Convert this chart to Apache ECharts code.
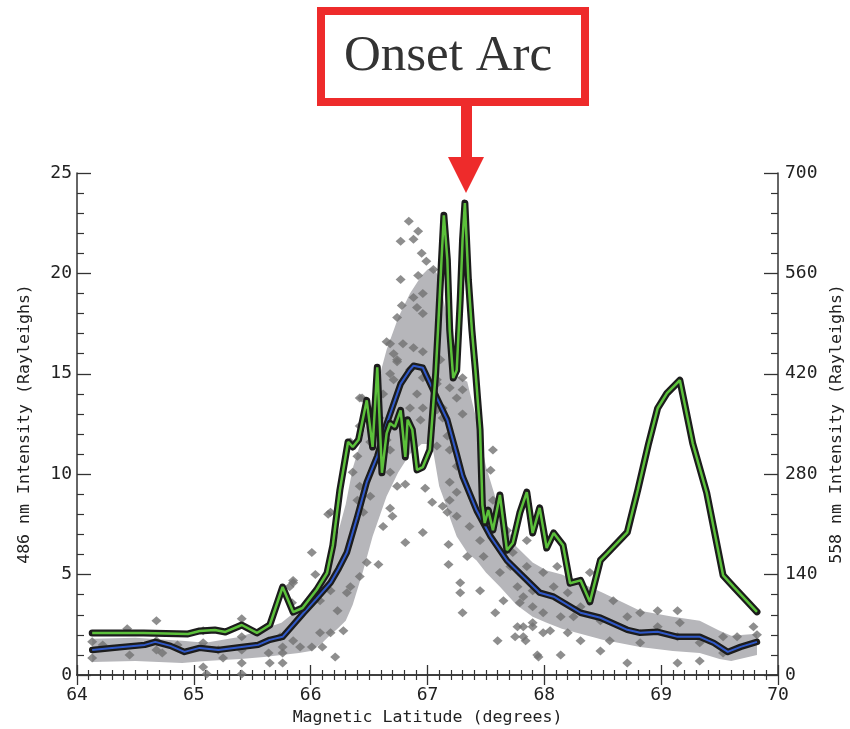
<!DOCTYPE html>
<html>
<head>
<meta charset="utf-8">
<script src="https://cdn.jsdelivr.net/npm/echarts@6/dist/echarts.min.js"></script>
<style>
html,body{margin:0;padding:0;background:#fff;}
#chart{width:850px;height:729px;}
</style>
</head>
<body>
<div id="chart"></div>
<script>
// ---- axis ticks ----
const latTicks = [64, 65, 66, 67, 68, 69, 70];
const leftTicks = [0, 5, 10, 15, 20, 25];
const rightTicks = [0, 140, 280, 420, 560, 700];

// ---- gray band (486 nm spread, Rayleighs) ----
const bandLat  = [64.13,64.5,64.9,65.1,65.4,65.6,65.75,65.9,66.0,66.1,66.17,66.23,66.3,66.36,66.45,66.53,66.65,66.75,66.85,66.95,67.0,67.05,67.1,67.15,67.2,67.25,67.34,67.42,67.5,67.62,67.76,67.9,68.02,68.15,68.5,68.82,69.1,69.33,69.5,69.6,69.82];
const bandLow  = [0.65,0.7,0.6,0.7,0.8,0.9,1.0,1.1,1.2,1.6,2.0,2.3,2.7,3.5,5.2,6.9,8.9,10.1,11.0,11.5,11.5,11.1,9.4,8.6,7.7,6.9,6.1,5.7,5.1,4.4,3.5,2.9,2.6,2.3,1.75,1.4,1.2,1.1,0.8,0.7,1.0];
const bandHigh = [1.8,1.85,1.7,1.6,1.9,2.3,2.6,3.3,4.0,4.8,5.5,7.0,8.5,10.3,12.0,13.6,16.2,17.8,19.0,19.9,20.2,20.3,19.8,18.3,16.3,14.9,14.6,12.7,10.4,8.1,6.4,5.6,5.2,5.0,4.1,3.2,2.9,2.7,2.2,1.95,2.05];

// ---- 486 nm mean (blue), Rayleighs ----
const blueLat = [64.13,64.3,64.58,64.67,64.8,64.92,65.05,65.21,65.41,65.55,65.65,65.76,65.85,65.94,66.05,66.17,66.24,66.31,66.40,66.48,66.57,66.65,66.77,66.85,66.88,66.96,67.0,67.08,67.17,67.25,67.30,67.42,67.54,67.68,67.82,67.96,68.08,68.31,68.48,68.71,68.82,68.97,69.14,69.33,69.45,69.57,69.68,69.82];
const blueVal = [1.25,1.35,1.5,1.65,1.45,1.15,1.35,1.25,1.4,1.5,1.75,1.9,2.5,3.1,3.8,4.6,5.3,6.1,7.9,9.6,10.9,12.5,14.5,15.2,15.4,15.3,14.8,13.8,12.7,11.0,9.9,8.2,6.9,5.7,4.9,4.1,3.9,3.1,2.85,2.25,2.1,2.15,1.9,1.9,1.6,1.15,1.4,1.65];

// ---- 558 nm (green), Rayleighs, right axis ----
const greenLat = [64.13,64.57,64.95,65.05,65.18,65.27,65.41,65.54,65.65,65.76,65.85,65.93,66.05,66.14,66.19,66.25,66.32,66.36,66.41,66.48,66.53,66.57,66.61,66.65,66.68,66.72,66.77,66.81,66.83,66.87,66.91,66.96,67.02,67.07,67.09,67.12,67.14,67.17,67.19,67.22,67.25,67.28,67.30,67.32,67.35,67.38,67.41,67.43,67.45,67.47,67.49,67.52,67.56,67.62,67.68,67.73,67.79,67.85,67.90,67.96,68.02,68.08,68.16,68.22,68.31,68.39,68.48,68.54,68.71,68.80,68.89,68.97,69.05,69.16,69.27,69.39,69.53,69.62,69.82];
const greenVal = [58.6,58.6,57.2,61.4,62.7,60,69.7,58.6,69.7,122.7,87.8,93.4,118.5,142.2,181,258,325,318,328,383,318,429,282,337,351,346,369,304,356,342,286,290,314,421,481,579,641,579,481,414,425,523,607,658,551,481,425,383,342,237,212,230,202,251,174,184,226,255,198,233,177,198,181,128,132,102,160,170,199,258,321,372,393,411,323,254,139,123,88];

// ---- individual 486 nm samples (scatter), Rayleighs ----
const sampLat = [66.84,66.92,66.77,66.88,66.95,66.99,66.77,66.92,67.05,66.88,66.96,66.78,66.74,66.91,66.96,66.65,66.79,66.88,66.96,66.71,66.74,67.11,66.85,66.96,67.08,66.42,66.48,66.62,67.19,67.30,67.25,67.13,67.30,66.71,67.08,
66.68,66.74,66.68,66.91,66.85,66.96,66.79,66.94,67.08,67.13,67.17,67.08,67.19,67.25,67.30,66.44,66.59,66.65,66.68,66.42,66.51,66.34,66.40,66.36,66.42,66.40,66.45,66.17,66.51,66.74,66.81,66.98,66.68,67.17,67.19,67.25,66.68,
66.01,66.15,66.04,65.85,65.84,65.99,66.08,66.17,66.34,66.42,66.31,66.23,66.17,66.28,66.08,66.01,66.10,65.91,65.76,65.74,65.76,65.65,66.21,65.76,66.48,66.58,66.81,66.70,66.62,66.96,67.04,67.18,67.18,67.28,67.28,67.30,67.45,67.58,67.60,67.75,67.84,67.95,67.56,67.54,67.19,67.13,67.25,67.36,67.48,67.56,67.34,67.48,67.45,67.62,67.71,67.77,67.82,67.65,67.90,67.99,67.90,67.99,67.82,
67.68,67.85,67.73,67.85,67.99,68.11,68.39,67.90,68.08,68.20,67.79,67.90,67.77,67.82,68.05,68.14,68.25,68.31,68.48,68.59,68.71,68.82,68.97,69.14,68.97,69.16,69.33,69.53,69.53,69.79,67.94,68.14,68.48,68.71,69.14,69.33,69.14,68.82,68.56,68.31,68.20,
64.13,64.13,64.22,64.43,64.45,64.68,64.68,64.68,64.73,64.86,65.08,65.08,65.08,65.11,65.21,65.25,65.41,65.41,65.41,65.41,65.41,65.64,65.85,65.85,65.82,69.82,69.65];
const sampVal = [22.6,22.1,21.6,21.7,21.0,20.6,19.7,19.9,20.2,18.8,19.0,18.4,17.8,18.3,18.0,16.6,16.5,16.3,16.1,16.0,15.6,15.7,15.2,14.8,14.7,13.8,13.3,14.0,14.3,14.8,13.8,13.3,13.0,14.7,13.2,
16.5,15.7,15.0,14.0,13.3,13.3,12.5,12.7,14.5,12.8,11.9,11.4,11.2,10.4,14.2,13.8,12.8,11.7,11.2,12.4,11.6,11.6,10.9,10.1,9.4,8.7,8.1,8.1,8.9,9.4,9.5,9.3,8.3,8.1,8.7,9.1,10.1,
6.1,8.0,5.0,4.6,3.6,3.6,3.7,4.2,4.4,4.9,4.1,3.2,2.1,2.2,2.1,1.4,1.4,1.4,1.4,1.9,1.1,0.6,0.9,0.6,5.6,5.5,6.6,7.9,7.4,7.1,8.6,6.5,5.5,4.6,4.1,3.1,4.2,3.1,1.7,1.9,1.7,0.9,11.2,10.2,9.6,8.4,7.9,7.4,8.1,8.7,5.9,5.9,6.7,5.1,5.4,4.4,3.9,3.7,3.4,3.1,2.6,2.1,2.4,
7.2,6.7,6.1,5.4,5.1,5.4,5.1,4.2,4.4,4.1,3.6,2.4,2.4,1.9,2.2,2.9,2.9,3.4,2.7,3.7,2.9,3.1,3.2,3.2,2.4,2.6,1.6,1.9,1.1,2.4,1.0,1.0,1.2,0.6,0.6,0.7,1.9,1.6,1.7,1.7,2.1,
1.65,0.85,1.5,2.3,1.0,2.7,1.7,1.25,1.1,1.5,2.2,1.6,0.4,0.05,1.25,0.85,2.8,1.9,1.25,0.6,0.05,1.1,4.7,1.7,4.4,2.0,1.9];

const zip = (a, b) => a.map((v, i) => [v, b[i]]);

const axisColor = '#333';
const labelFont = { color: '#222', fontFamily: 'DejaVu Sans Mono', fontSize: 18 };
const nameFont = { color: '#222', fontFamily: 'DejaVu Sans Mono', fontSize: 16.6 };

const chart = echarts.init(document.getElementById('chart'), null, { renderer: 'canvas' });

const xBase = {
  type: 'value',
  min: latTicks[0], max: latTicks[latTicks.length - 1], interval: 1,
  axisLine: { show: true, lineStyle: { color: axisColor, width: 1.5 } },
  axisTick: { show: true, inside: true, length: 10, lineStyle: { color: axisColor, width: 1.3 } },
  minorTick: { show: true, splitNumber: 10, length: 5, lineStyle: { color: axisColor, width: 1.2 } },
  splitLine: { show: false }
};

const option = {
  backgroundColor: '#fff',
  animation: false,
  grid: { left: 77, right: 72, top: 173, bottom: 54, containLabel: false, outerBoundsMode: 'none' },
  xAxis: [
    Object.assign({}, xBase, {
      position: 'bottom',
      name: 'Magnetic Latitude (degrees)', nameLocation: 'middle', nameGap: 33,
      nameTextStyle: Object.assign({ verticalAlign: 'top' }, nameFont),
      axisLabel: Object.assign({ margin: 11 }, labelFont)
    }),
    Object.assign({}, xBase, {
      position: 'top',
      axisLabel: { show: false }
    })
  ],
  yAxis: [
    {
      type: 'value', position: 'left',
      min: leftTicks[0], max: leftTicks[leftTicks.length - 1], interval: 5,
      name: '486 nm Intensity (Rayleighs)', nameLocation: 'middle', nameGap: 44, nameRotate: 90,
      nameTextStyle: nameFont,
      axisLine: { show: true, lineStyle: { color: axisColor, width: 1.5 } },
      axisTick: { show: true, inside: true, length: 14, lineStyle: { color: axisColor, width: 1.3 } },
      minorTick: { show: true, splitNumber: 5, length: 7, lineStyle: { color: axisColor, width: 1.2 } },
      splitLine: { show: false },
      axisLabel: Object.assign({ margin: 5 }, labelFont)
    },
    {
      type: 'value', position: 'right',
      min: rightTicks[0], max: rightTicks[rightTicks.length - 1], interval: 140,
      name: '558 nm Intensity (Rayleighs)', nameLocation: 'middle', nameGap: 50, nameRotate: 90,
      nameTextStyle: nameFont,
      axisLine: { show: true, lineStyle: { color: axisColor, width: 1.5 } },
      axisTick: { show: true, inside: true, length: 14, lineStyle: { color: axisColor, width: 1.3 } },
      minorTick: { show: true, splitNumber: 5, length: 7, lineStyle: { color: axisColor, width: 1.2 } },
      splitLine: { show: false },
      axisLabel: Object.assign({ margin: 7 }, labelFont)
    }
  ],
  series: [
    {
      name: 'band', type: 'custom', silent: true, z: 1,
      data: [[bandLat[0], bandLow[0]]],
      renderItem: function (params, api) {
        const pts = [];
        for (let i = 0; i < bandLat.length; i++) pts.push(api.coord([bandLat[i], bandHigh[i]]));
        for (let i = bandLat.length - 1; i >= 0; i--) pts.push(api.coord([bandLat[i], bandLow[i]]));
        return { type: 'polygon', shape: { points: pts }, style: { fill: '#b6b6ba' } };
      }
    },
    {
      name: 'samples', type: 'scatter', silent: true,
      data: zip(sampLat, sampVal), symbol: 'diamond', symbolSize: [10, 9],
      itemStyle: { color: '#727272' }, z: 2
    },
    {
      name: 'blueOutline', type: 'line', data: zip(blueLat, blueVal), symbol: 'none',
      lineStyle: { color: '#1c1c1c', width: 6.5, join: 'round', cap: 'round' }, z: 3, silent: true
    },
    {
      name: 'blue', type: 'line', data: zip(blueLat, blueVal), symbol: 'none',
      lineStyle: { color: '#2f58c8', width: 2 }, z: 4, silent: true
    },
    {
      name: 'greenOutline', type: 'line', yAxisIndex: 1, data: zip(greenLat, greenVal), symbol: 'none',
      lineStyle: { color: '#1c1c1c', width: 7, join: 'round', cap: 'round' }, z: 5, silent: true
    },
    {
      name: 'green', type: 'line', yAxisIndex: 1, data: zip(greenLat, greenVal), symbol: 'none',
      lineStyle: { color: '#5cc13b', width: 2.5 }, z: 6, silent: true
    }
  ],
  graphic: [
    {
      type: 'rect', z: 100,
      shape: { x: 321, y: 11, width: 264, height: 91 },
      style: { fill: '#fff', stroke: '#ee2b2b', lineWidth: 8 }
    },
    {
      type: 'text', z: 101,
      style: {
        text: 'Onset Arc', x: 448, y: 57,
        font: '51px "Liberation Serif"', fill: '#333',
        align: 'center', verticalAlign: 'middle',
        textAlign: 'center', textVerticalAlign: 'middle'
      }
    },
    {
      type: 'rect', z: 100,
      shape: { x: 461, y: 104, width: 11, height: 55 },
      style: { fill: '#ee2b2b' }
    },
    {
      type: 'polygon', z: 100,
      shape: { points: [[448, 157], [484, 157], [466, 193]] },
      style: { fill: '#ee2b2b' }
    }
  ]
};

chart.setOption(option);
</script>
</body>
</html>
